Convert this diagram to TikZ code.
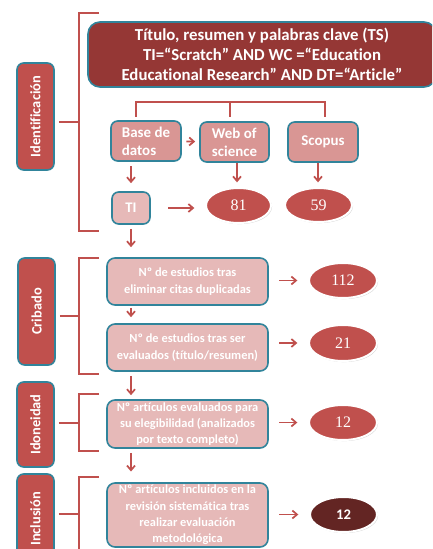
\documentclass[tikz,border=0pt]{standalone}
\usepackage{fontspec}
\setmainfont{Carlito}[Ligatures = NoCommon]
\newfontfamily\numfont{Liberation Serif}
\usetikzlibrary{shapes.geometric,shadows,arrows.meta}

\definecolor{phasered}{HTML}{C0504D}
\definecolor{titlered}{HTML}{953735}
\definecolor{boxmid}{HTML}{D99694}
\definecolor{boxlight}{HTML}{E6B9B8}
\definecolor{edgeteal}{HTML}{31849B}
\definecolor{darkred}{HTML}{632523}

\tikzset{
  phase/.style = {draw = edgeteal, line width = 1.2pt, fill = phasered, rounded corners = 5pt,
    text = white, font = \bfseries\fontsize{10.8}{12}\selectfont, rotate = 90, inner sep = 0pt},
  titlebox/.style = {draw = edgeteal, line width = 1.2pt, fill = titlered, rounded corners = 9pt,
    text = white, font = \bfseries\fontsize{12.6}{15}\selectfont, align = center, inner sep = 0pt},
  dbbox/.style = {draw = edgeteal, line width = 1.2pt, fill = boxmid, rounded corners = 5pt,
    text = white, font = \bfseries\fontsize{11.2}{13.5}\selectfont, align = left, inner sep = 0pt},
  stagebox/.style = {draw = edgeteal, line width = 1.2pt, fill = boxlight, rounded corners = 6pt,
    text = white, font = \bfseries\fontsize{9.3}{12.2}\selectfont, align = center, inner sep = 0pt},
  count/.style = {ellipse, draw = white, line width = 1.5pt, fill = phasered, text = white,
    font = \numfont\fontsize{12}{14}\selectfont, inner sep = 0pt,
    drop shadow = {opacity = .35, shadow xshift = .8pt, shadow yshift = -.8pt}},
  brk/.style = {draw = phasered, line width = 2pt},
  arr/.style = {draw = phasered, line width = 1.3pt, -{Straight Barb[length = 3.5pt, width = 6pt]}}
}

\begin{document}
\begin{tikzpicture}[x = .75pt, y = -.75pt]
  \useasboundingbox (0, 0) rectangle (432, 549);
  \clip (0, 0) rectangle (432, 549);

  % fases
  \node[phase, minimum width = 107*.75pt, minimum height = 37*.75pt] (lblIdent) at (35.5, 116.5) {Identificación};
  \node[phase, minimum width = 107*.75pt, minimum height = 37*.75pt] (lblCrib) at (36.5, 311.5) {Cribado};
  \node[phase, minimum width = 85*.75pt, minimum height = 37*.75pt] (lblIdon) at (35.5, 424.5) {Idoneidad};
  \node[phase, minimum width = 90*.75pt, minimum height = 37*.75pt] (lblIncl) at (35.5, 519) {Inclusión};

  % llaves
  \coordinate (idMid) at (79, 122);
  \coordinate (crMid) at (79, 316);
  \coordinate (ioMid) at (79, 423);
  \coordinate (inMid) at (79, 514);
  \draw[brk] (99, 13) -| (79, 231) -- (99, 231);
  \draw[brk] (99, 258) -| (79, 374) -- (99, 374);
  \draw[brk] (99, 394) -| (79, 451) -- (99, 451);
  \draw[brk] (99, 477) -| (79, 560);
  \draw[brk, shorten < = 3pt] (lblIdent.south |- idMid) -- (idMid);
  \draw[brk, shorten < = 3pt] (lblCrib.south |- crMid) -- (crMid);
  \draw[brk, shorten < = 3pt] (lblIdon.south |- ioMid) -- (ioMid);
  \draw[brk, shorten < = 3pt] (lblIncl.south |- inMid) -- (inMid);

  % busqueda
  \node[titlebox, minimum width = 348*.75pt, minimum height = 65*.75pt] (title) at (262, 54.5)
    {Título, resumen y palabras clave (TS)\\TI=“Scratch" AND WC =“Education\\Educational Research” AND DT=“Article"};
  \draw[brk, line width = 1.6pt] (136, 117) |- (325, 102) -- (325, 117);
  \draw[brk, line width = 1.6pt] (230, 102) -- (230, 117);

  \node[dbbox, minimum width = 70*.75pt, minimum height = 40*.75pt] (base) at (146, 141) {Base de\\datos};
  \node[dbbox, minimum width = 69*.75pt, minimum height = 40*.75pt] (web) at (234.5, 142) {Web of\\science};
  \node[dbbox, minimum width = 70*.75pt, minimum height = 40*.75pt] (scopus) at (323, 142) {Scopus};
  \node[stagebox, font = \bfseries\fontsize{11}{12}\selectfont, rounded corners = 5pt,
    minimum width = 38*.75pt, minimum height = 32*.75pt] (ti) at (131, 208) {TI};
  \node[count, minimum width = 65*.75pt, minimum height = 35*.75pt] (n81) at (238.5, 205.5) {81};
  \node[count, minimum width = 67*.75pt, minimum height = 34*.75pt] (n59) at (318.5, 205) {59};

  \draw[arr, shorten < = 3.5pt, shorten > = 3pt] (base) -- (web);
  \draw[arr, shorten < = 3.5pt, shorten > = 6pt] (base.south -| ti.north) -- (ti.north);
  \draw[arr, shorten > = 3.5pt] (web.south -| 237, 0) -- (n81.north -| 237, 0);
  \draw[arr, shorten > = 3.5pt] (scopus.south -| 318, 0) -- (n59.north -| 318, 0);
  \draw[arr, shorten < = 13pt, shorten > = 8pt] (ti) -- (ti -| n81.west);

  % etapas
  \node[stagebox, minimum width = 161*.75pt, minimum height = 47*.75pt] (b1) at (187.5, 281.5)
    {Nº de estudios tras\\eliminar citas duplicadas};
  \node[stagebox, minimum width = 161*.75pt, minimum height = 47*.75pt] (b2) at (187.5, 347.5)
    {Nº de estudios tras ser\\evaluados (título/resumen)};
  \node[stagebox, minimum width = 161*.75pt, minimum height = 48*.75pt] (b3) at (187.5, 424)
    {Nº artículos evaluados para\\su elegibilidad (analizados\\por texto completo)};
  \node[stagebox, minimum width = 161*.75pt, minimum height = 64*.75pt] (b4) at (187.5, 515)
    {Nº artículos incluidos en la\\revisión sistemática tras\\realizar evaluación\\metodológica};

  \node[count, minimum width = 68*.75pt, minimum height = 35*.75pt] (n112) at (343, 280.5) {112};
  \node[count, minimum width = 68*.75pt, minimum height = 36*.75pt] (n21) at (343, 343) {21};
  \node[count, minimum width = 68*.75pt, minimum height = 35*.75pt] (n12) at (343, 422.5) {12};
  \node[count, fill = darkred, font = \bfseries\fontsize{11}{13}\selectfont,
    minimum width = 67*.75pt, minimum height = 35*.75pt] (n12b) at (343.5, 514.5) {12};

  \draw[arr, shorten < = 3pt, shorten > = 7.5pt] (ti) -- (b1.north -| ti);
  \draw[arr, shorten < = 1.5pt, shorten > = 4.5pt] (b1.south -| ti) -- (b2.north -| ti);
  \draw[arr, shorten < = 3pt, shorten > = 3pt] (b2.south -| ti) -- (b3.north -| ti);
  \draw[arr, shorten < = 3pt, shorten > = 8pt] (b3.south -| ti) -- (b4.north -| ti);

  \draw[arr, shorten < = 8pt, shorten > = 8pt] (b1.east |- n112) -- (n112.west);
  \draw[arr, shorten < = 8pt, shorten > = 8pt] (b2.east |- n21) -- (n21.west);
  \draw[arr, shorten < = 8pt, shorten > = 8pt] (b3.east |- n12) -- (n12.west);
  \draw[arr, shorten < = 8pt, shorten > = 8pt] (b4.east |- n12b) -- (n12b.west);
\end{tikzpicture}
\end{document}
